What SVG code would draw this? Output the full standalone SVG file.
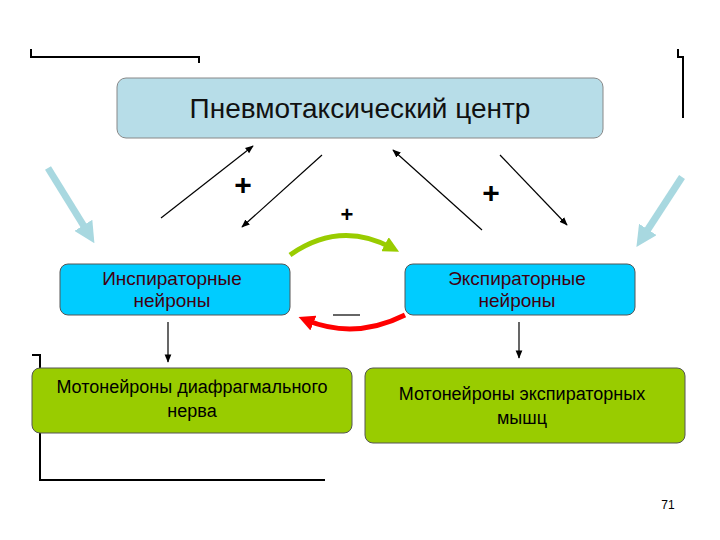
<svg xmlns="http://www.w3.org/2000/svg" width="720" height="540" viewBox="0 0 720 540">
<style>
.t{font-family:"Liberation Sans",Arial,sans-serif;text-anchor:middle}
.ln{stroke:#000;stroke-width:1.2;fill:none}
.deco{stroke:#000;stroke-width:2;fill:none}
.pl{font-family:"Liberation Sans",Arial,sans-serif;font-weight:bold;text-anchor:middle}
</style>
<defs>
<marker id="a" viewBox="0 0 10 10" refX="9" refY="5" markerWidth="7" markerHeight="7" orient="auto-start-reverse"><path d="M0,1 L10,5 L0,9 Z" fill="#000"/></marker>
<marker id="lb" viewBox="0 0 10 10" refX="6" refY="5" markerWidth="3" markerHeight="3" orient="auto"><path d="M0,0 L10,5 L0,10 Z" fill="#a8d8e0"/></marker>
<marker id="g" viewBox="0 0 10 10" refX="5" refY="5" markerWidth="3.2" markerHeight="3.2" orient="auto"><path d="M0,0 L10,5 L0,10 Z" fill="#99cc00"/></marker>
<marker id="r" viewBox="0 0 10 10" refX="5" refY="5" markerWidth="3.2" markerHeight="3.2" orient="auto"><path d="M0,0 L10,5 L0,10 Z" fill="#ff0000"/></marker>
</defs>
<rect width="720" height="540" fill="#fff"/>
<g id="decor">
<polyline class="deco" points="31,49 31,57 199,57 199,63"/>
<polyline class="deco" points="678,49 678,57 683,57 683,118"/>
<polyline class="deco" points="32,355 40,355 40,480 325,480"/>
<text x="668" y="509" class="t" font-size="12">71</text>
</g>
<g id="connectors">
<line class="ln" x1="161" y1="218" x2="253" y2="146" marker-end="url(#a)"/>
<line class="ln" x1="322" y1="155" x2="242" y2="227" marker-end="url(#a)"/>
<line class="ln" x1="482" y1="230" x2="393" y2="150" marker-end="url(#a)"/>
<line class="ln" x1="500" y1="155" x2="567" y2="225" marker-end="url(#a)"/>
<line x1="48" y1="168" x2="90" y2="236" stroke="#a8d8e0" stroke-width="7" marker-end="url(#lb)"/>
<line x1="682" y1="177" x2="641" y2="240" stroke="#a8d8e0" stroke-width="7" marker-end="url(#lb)"/>
<path d="M290,255 Q340,220 392,248" stroke="#99cc00" stroke-width="5" fill="none" marker-end="url(#g)"/>
<path d="M405,315 Q355,340 306,320" stroke="#ff0000" stroke-width="5" fill="none" marker-end="url(#r)"/>
<line class="ln" x1="168" y1="322" x2="168" y2="362" marker-end="url(#a)"/>
<line class="ln" x1="519" y1="322" x2="519" y2="358" marker-end="url(#a)"/>
<text x="243" y="195" class="pl" font-size="30">+</text>
<text x="347" y="222" class="pl" font-size="22">+</text>
<text x="491" y="203" class="pl" font-size="30">+</text>
<line x1="333" y1="315" x2="360" y2="315" stroke="#000" stroke-width="1.2"/>
</g>
<g id="pneumo">
<rect x="117" y="78" width="486" height="60" rx="9" fill="#b7dde8" stroke="#888"/>
<text x="360" y="118" class="t" font-size="28" fill="#111">Пневмотаксический центр</text>
</g>
<g id="insp">
<rect x="60" y="264" width="230" height="51" rx="8" fill="#00ccff" stroke="#555"/>
<text class="t" font-size="19" fill="#400010"><tspan x="172" y="285">Инспираторные</tspan><tspan x="172" y="307">нейроны</tspan></text>
</g>
<g id="exp">
<rect x="405" y="264" width="230" height="51" rx="8" fill="#00ccff" stroke="#555"/>
<text class="t" font-size="19" fill="#400010"><tspan x="517" y="285">Экспираторные</tspan><tspan x="517" y="307">нейроны</tspan></text>
</g>
<g id="motor1">
<rect x="32" y="368" width="320" height="65" rx="8" fill="#99cc00" stroke="#555"/>
<text class="t" font-size="18" fill="#000"><tspan x="192" y="393">Мотонейроны диафрагмального</tspan><tspan x="192" y="417">нерва</tspan></text>
</g>
<g id="motor2">
<rect x="365" y="368" width="320" height="75" rx="8" fill="#99cc00" stroke="#555"/>
<text class="t" font-size="18" fill="#000"><tspan x="522" y="400">Мотонейроны экспираторных</tspan><tspan x="522" y="424">мышц</tspan></text>
</g>
</svg>
